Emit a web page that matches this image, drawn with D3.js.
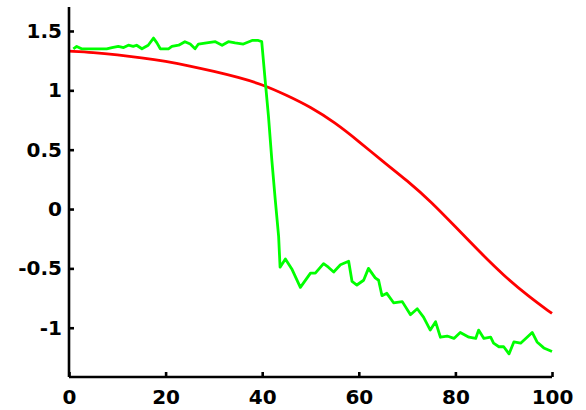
<!DOCTYPE html>
<html><head><meta charset="utf-8">
<script src="https://cdn.jsdelivr.net/npm/d3@7"></script>
<style>html,body{margin:0;padding:0;background:#fff;}svg{display:block;}</style>
</head><body>
<svg id="chart" width="586" height="410"></svg>
<script>
const xTicks = [0, 20, 40, 60, 80, 100];
const yTicks = [-1, -0.5, 0, 0.5, 1, 1.5];

const redX = [0, 5, 10, 15, 20, 25, 30, 35, 40, 45, 50, 55, 60, 65, 70, 75, 80, 85, 90, 95, 100];
const redY = [1.33, 1.32, 1.30, 1.275, 1.245, 1.205, 1.16, 1.11, 1.05, 0.96, 0.86, 0.73, 0.57, 0.40, 0.24, 0.06, -0.15, -0.36, -0.56, -0.73, -0.88];

const greenX = [0.9, 1.6, 2.6, 4.4, 6.1, 7.8, 8.9, 10.2, 11.3, 12.3, 13.3, 14.0, 15.1, 16.4, 17.5, 18.2, 18.9, 20.6, 21.3, 22.7, 24.0, 25.1, 26.1, 26.8, 28.5, 30.3, 31.7, 33.0, 34.4, 36.1, 37.9, 39.2, 39.9, 40.6, 41.3, 42.0, 42.7, 43.4, 43.7, 44.8, 46.2, 47.9, 50.0, 51.0, 52.7, 53.7, 54.8, 56.2, 57.9, 58.6, 59.6, 61.0, 62.0, 63.4, 64.1, 64.8, 65.8, 67.2, 69.0, 70.7, 72.1, 73.4, 74.8, 75.9, 76.9, 78.3, 79.7, 81.0, 82.8, 84.2, 84.8, 85.9, 87.3, 87.9, 89.0, 90.0, 91.1, 92.1, 93.5, 95.9, 96.9, 98.3, 100.0];
const greenY = [1.35, 1.37, 1.35, 1.35, 1.35, 1.35, 1.36, 1.37, 1.36, 1.38, 1.37, 1.38, 1.35, 1.38, 1.44, 1.40, 1.35, 1.35, 1.37, 1.38, 1.41, 1.39, 1.35, 1.39, 1.40, 1.41, 1.38, 1.41, 1.40, 1.39, 1.42, 1.42, 1.41, 1.09, 0.78, 0.41, 0.08, -0.23, -0.49, -0.42, -0.51, -0.66, -0.54, -0.54, -0.46, -0.49, -0.53, -0.47, -0.44, -0.61, -0.64, -0.60, -0.50, -0.58, -0.60, -0.73, -0.71, -0.79, -0.78, -0.89, -0.84, -0.91, -1.02, -0.95, -1.08, -1.07, -1.09, -1.04, -1.08, -1.09, -1.02, -1.09, -1.08, -1.13, -1.16, -1.16, -1.22, -1.12, -1.13, -1.04, -1.12, -1.17, -1.20];

const svg = d3.select("#chart");
const x = d3.scaleLinear().domain([0, 100]).range([69, 552]);
const y = d3.scaleLinear().domain([-1.415, 1.702]).range([377, 7]);

svg.append("path")
  .datum(redX.map((v, i) => [v, redY[i]]))
  .attr("fill", "none").attr("stroke", "#ff0000").attr("stroke-width", 2.8)
  .attr("d", d3.line().x(d => x(d[0])).y(d => y(d[1])).curve(d3.curveBasis));

svg.append("path")
  .datum(greenX.map((v, i) => [v, greenY[i]]))
  .attr("fill", "none").attr("stroke", "#00ff00").attr("stroke-width", 2.8)
  .attr("stroke-linejoin", "round")
  .attr("d", d3.line().x(d => x(d[0])).y(d => y(d[1])));

const fmt = v => String(v);

const gx = svg.append("g").attr("transform", "translate(0,377)")
  .call(d3.axisBottom(x).tickValues(xTicks).tickFormat(fmt).tickSize(-5).tickSizeOuter(0).tickPadding(13));
const gy = svg.append("g").attr("transform", "translate(69,0)")
  .call(d3.axisLeft(y).tickValues(yTicks).tickFormat(fmt).tickSize(-5).tickSizeOuter(0).tickPadding(7));

[gx, gy].forEach(g => {
  g.select(".domain").attr("stroke", "#000").attr("stroke-width", 2.6);
  g.selectAll(".tick line").attr("stroke", "#000").attr("stroke-width", 2.6);
  g.selectAll(".tick text")
    .attr("fill", "#000")
    .style("font-family", "'DejaVu Sans', sans-serif")
    .style("font-weight", "bold")
    .style("font-size", "20px");
});
gy.select(".domain").attr("d", "M0,377V7");
gx.select(".domain").attr("d", "M69,0H552");
</script>
</body></html>
